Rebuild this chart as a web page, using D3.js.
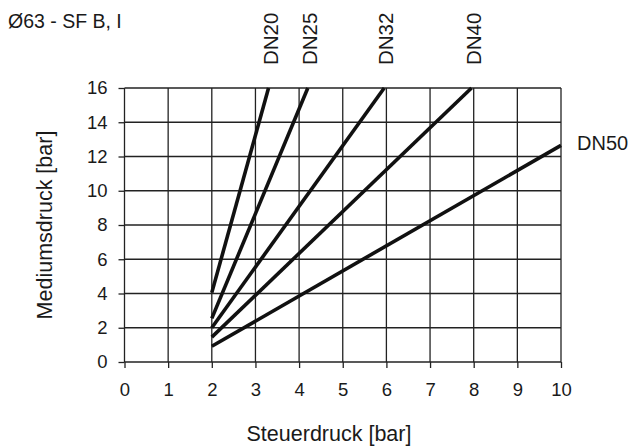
<!DOCTYPE html>
<html>
<head>
<meta charset="utf-8">
<script src="https://cdn.jsdelivr.net/npm/d3@7"></script>
<style>
  body { margin: 0; background: #fff; }
  svg text { font-family: "Liberation Sans", Arial, sans-serif; fill: #1a1a1a; }
</style>
</head>
<body>
<svg width="635" height="447"></svg>
<script>
// data
var series = ["DN20", "DN25", "DN32", "DN40", "DN50"];
var xStart = [2, 2, 2, 2, 2];
var yStart = [4.05, 2.55, 2.0, 1.45, 0.92];
var xEnd = [3.3, 4.2, 5.95, 7.95, 10];
var yEnd = [16, 16, 16, 16, 12.65];
var xTicks = [0, 1, 2, 3, 4, 5, 6, 7, 8, 9, 10];
var yTicks = [0, 2, 4, 6, 8, 10, 12, 14, 16];

// plot box (note: "top" is taken by window.top, so use own names)
var svg = d3.select("svg"),
    plotLeft = 124.5, plotRight = 561, plotTop = 88, plotBottom = 362;

var x = d3.scaleLinear().domain([0, 10]).range([plotLeft, plotRight]);
var y = d3.scaleLinear().domain([0, 16]).range([plotBottom, plotTop]);

// grid
var grid = svg.append("g").attr("stroke", "#222").attr("stroke-width", 1.3);
grid.selectAll(".vx")
  .data(xTicks)
  .enter().append("line")
    .attr("x1", function(d) { return x(d); })
    .attr("x2", function(d) { return x(d); })
    .attr("y1", y(16))
    .attr("y2", y(0));
grid.selectAll(".hy")
  .data(yTicks)
  .enter().append("line")
    .attr("y1", function(d) { return y(d); })
    .attr("y2", function(d) { return y(d); })
    .attr("x1", x(0))
    .attr("x2", x(10));

// axes (ticks + labels only, grid draws the lines)
var xAxis = svg.append("g")
    .attr("transform", "translate(0," + plotBottom + ")")
    .call(d3.axisBottom(x).tickValues(xTicks).tickSize(6).tickPadding(15));
var yAxis = svg.append("g")
    .attr("transform", "translate(" + plotLeft + ",0)")
    .call(d3.axisLeft(y).tickValues(yTicks).tickSize(6).tickPadding(11));

[xAxis, yAxis].forEach(function(a) {
  a.select(".domain").remove();
  a.selectAll(".tick line").attr("stroke", "#222").attr("stroke-width", 1.3);
  a.selectAll(".tick text")
    .attr("font-size", "18.5px")
    .attr("fill", "#1a1a1a")
    .style("font-family", "'Liberation Sans', Arial, sans-serif");
});

// characteristic lines
svg.append("g")
  .selectAll("line")
  .data(series)
  .enter().append("line")
    .attr("x1", function(d, i) { return x(xStart[i]); })
    .attr("y1", function(d, i) { return y(yStart[i]); })
    .attr("x2", function(d, i) { return x(xEnd[i]); })
    .attr("y2", function(d, i) { return y(yEnd[i]); })
    .attr("stroke", "#111")
    .attr("stroke-width", 3.6);

// series labels: vertical ones above the plot, DN50 at the right
svg.append("g")
  .selectAll("text")
  .data(series.slice(0, 4))
  .enter().append("text")
    .attr("transform", function(d, i) {
      return "translate(" + (x(xEnd[i]) + 9) + ",65) rotate(-90)";
    })
    .attr("font-size", "20.5px")
    .text(function(d) { return d; });

svg.append("text")
    .attr("x", x(xEnd[4]) + 16)
    .attr("y", 150)
    .attr("font-size", "20px")
    .text(series[4]);

// titles
svg.append("text")
    .attr("x", 8)
    .attr("y", 28)
    .attr("font-size", "19.5px")
    .text("Ø63 - SF B, I");

svg.append("text")
    .attr("x", 329)
    .attr("y", 441)
    .attr("text-anchor", "middle")
    .attr("font-size", "21.5px")
    .text("Steuerdruck [bar]");

svg.append("text")
    .attr("transform", "translate(52," + ((plotTop + plotBottom) / 2) + ") rotate(-90)")
    .attr("text-anchor", "middle")
    .attr("font-size", "21.5px")
    .text("Mediumsdruck [bar]");
</script>
</body>
</html>
